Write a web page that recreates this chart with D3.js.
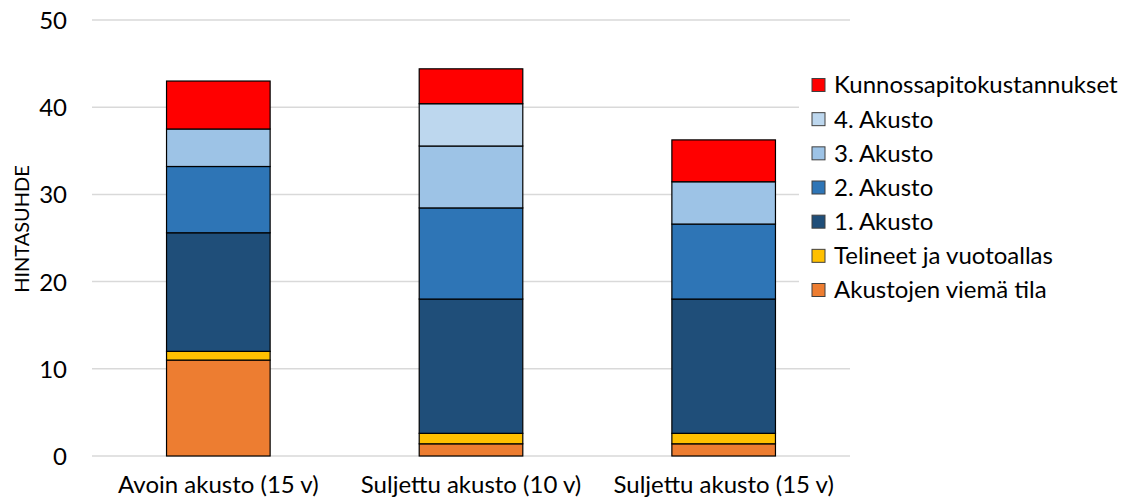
<!DOCTYPE html>
<html>
<head>
<meta charset="utf-8">
<script src="https://cdn.jsdelivr.net/npm/d3@7"></script>
<style>
  html, body { margin: 0; padding: 0; background: #fff; }
  svg { display: block; }
  text { font-family: Lato, "Open Sans", sans-serif; fill: #000; }
</style>
</head>
<body>
<svg id="chart" width="1137" height="502"></svg>
<script>
// ---- data ----
const categories = ["Avoin akusto (15 v)", "Suljettu akusto (10 v)", "Suljettu akusto (15 v)"];
const seriesNames = ["Akustojen viemä tila", "Telineet ja vuotoallas", "1. Akusto", "2. Akusto", "3. Akusto", "4. Akusto", "Kunnossapitokustannukset"];
const akustojenViemaTila = [11.0, 1.4, 1.4];
const telineetJaVuotoallas = [1.0, 1.2, 1.2];
const akusto1 = [13.6, 15.4, 15.4];
const akusto2 = [7.6, 10.45, 8.6];
const akusto3 = [4.3, 7.1, 4.85];
const akusto4 = [0, 4.85, 0];
const kunnossapito = [5.5, 4.0, 4.8];
const yTicks = [0, 10, 20, 30, 40, 50];
const yTitle = "HINTASUHDE";
const colors = ["#ED7D31", "#FFC000", "#1F4E79", "#2E75B6", "#9DC3E6", "#BDD7EE", "#FF0000"];

const seriesValues = [akustojenViemaTila, telineetJaVuotoallas, akusto1, akusto2, akusto3, akusto4, kunnossapito];
const table = categories.map((c, i) => {
  const row = { cat: c };
  seriesNames.forEach((s, j) => { row[s] = seriesValues[j][i]; });
  return row;
});

// ---- layout ----
const svg = d3.select("#chart");
const plot = { left: 92, right: 850, top: 20, bottom: 456 };

const x = d3.scaleBand().domain(categories).range([plot.left, plot.right]).paddingInner(0.59).paddingOuter(0.295);
const y = d3.scaleLinear().domain([0, 50]).range([plot.bottom, plot.top]);

// gridlines
svg.append("g").selectAll("line").data(yTicks).join("line")
  .attr("x1", plot.left).attr("x2", plot.right)
  .attr("y1", d => y(d)).attr("y2", d => y(d))
  .attr("stroke", "#d9d9d9").attr("stroke-width", 1.5);

// y axis labels
const yAxis = d3.axisLeft(y).tickValues(yTicks).tickSize(0).tickPadding(0);
const ya = svg.append("g").attr("transform", `translate(67,0)`).call(yAxis);
ya.select(".domain").remove();
ya.selectAll("text").style("font-size", "24px").attr("fill", "#000").attr("dy", "0.35em")
  .style("font-family", "Lato, 'Open Sans', sans-serif");

// y title
svg.append("text")
  .attr("transform", `translate(29, 229) rotate(-90)`)
  .attr("text-anchor", "middle")
  .style("font-size", "20px")
  .text(yTitle);

// stacks
const stack = d3.stack().keys(seriesNames);
const stacked = stack(table);
const layers = svg.append("g").selectAll("g").data(stacked).join("g")
  .attr("fill", (d, i) => colors[i]);
layers.selectAll("rect").data(d => d.filter(p => p[1] - p[0] > 0)).join("rect")
  .attr("x", d => x(d.data.cat))
  .attr("width", x.bandwidth())
  .attr("y", d => y(d[1]))
  .attr("height", d => y(d[0]) - y(d[1]))
  .attr("stroke", "#000")
  .attr("stroke-width", 1.2);

// x labels
const xAxis = d3.axisBottom(x).tickSize(0).tickPadding(0);
const xa = svg.append("g").attr("transform", `translate(0,${plot.bottom})`).call(xAxis);
xa.select(".domain").remove();
xa.selectAll("text").attr("y", 37).attr("dy", 0).style("font-size", "24px").attr("fill", "#000")
  .style("font-family", "Lato, 'Open Sans', sans-serif");

// legend
svg.append("rect").attr("x", 799).attr("y", 66).attr("width", 338).attr("height", 240).attr("fill", "#fff");
const legendOrder = seriesNames.slice().reverse();
const legendY = d3.scalePoint().domain(legendOrder).range([85, 290]);
const lg = svg.append("g").selectAll("g").data(legendOrder).join("g")
  .attr("transform", d => `translate(812, ${legendY(d)})`);
lg.append("rect").attr("x", 0).attr("y", -6.5).attr("width", 13).attr("height", 13)
  .attr("fill", d => colors[seriesNames.indexOf(d)])
  .attr("stroke", "#404040").attr("stroke-width", 1);
lg.append("text").attr("x", 22).attr("dy", "0.35em").style("font-size", "24px").text(d => d);
</script>
</body>
</html>
